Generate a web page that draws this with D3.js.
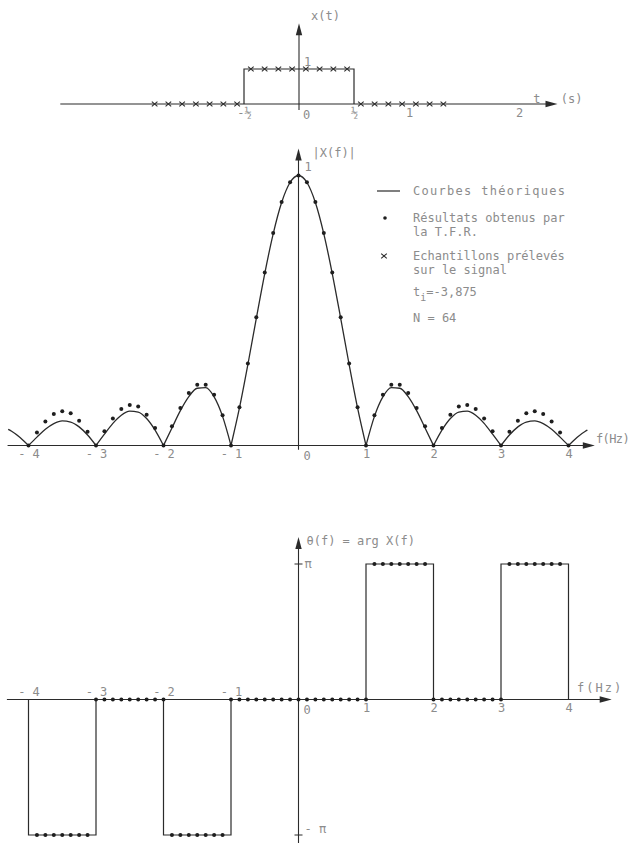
<!DOCTYPE html>
<html>
<head>
<meta charset="utf-8">
<script src="https://cdn.jsdelivr.net/npm/d3@7"></script>
<style>
body{margin:0;background:#fff;}
text{font-family:"DejaVu Sans Mono",monospace;font-size:12px;fill:#8c8c8c;}
</style>
</head>
<body>
<script>
// top panel : x(t) samples (crosses) and the rectangle
var sampleT = [-1.3125,-1.1875,-1.0625,-0.9375,-0.8125,-0.6875,-0.5625,
               -0.4375,-0.3125,-0.1875,-0.0625,0.0625,0.1875,0.3125,0.4375,
               0.5625,0.6875,0.8125,0.9375,1.0625,1.1875,1.3125];
var sampleX = [0,0,0,0,0,0,0, 1,1,1,1,1,1,1,1, 0,0,0,0,0,0,0];
var rectT = [-0.5,-0.5,0.5];
var rectX = [0,1,0];
var tTicks = [-0.5,0.5,1,2];
var tTickLabels = ["-½","½","1","2"];

// middle panel : |X(f)|
var fTheo = [-4.3,-4.25,-4.125,-4,-3.875,-3.75,-3.625,-3.5,-3.375,-3.25,-3.125,-3,
  -2.875,-2.75,-2.625,-2.5,-2.375,-2.25,-2.125,-2,-1.875,-1.75,-1.625,-1.5,-1.375,-1.25,-1.125,-1,
  -0.875,-0.75,-0.625,-0.5,-0.375,-0.25,-0.125,0,0.125,0.25,0.375,0.5,0.625,0.75,0.875,1,
  1.125,1.25,1.375,1.5,1.625,1.75,1.875,2,2.125,2.25,2.375,2.5,2.625,2.75,2.875,3,
  3.125,3.25,3.375,3.5,3.625,3.75,3.875,4,4.125,4.25,4.28];
var magTheo = [0.060,0.053,0.030,0,0.031,0.060,0.081,0.091,0.087,0.069,0.039,0,
  0.042,0.082,0.112,0.127,0.124,0.100,0.057,0,0.065,0.129,0.181,0.212,0.214,0.180,0.108,0,
  0.139,0.300,0.471,0.637,0.784,0.900,0.974,1,0.974,0.900,0.784,0.637,0.471,0.300,0.139,0,
  0.108,0.180,0.214,0.212,0.181,0.129,0.065,0,0.057,0.100,0.124,0.127,0.112,0.082,0.042,0,
  0.039,0.069,0.087,0.091,0.081,0.060,0.031,0,0.030,0.053,0.057];
var fDots = [-4,-3.875,-3.75,-3.625,-3.5,-3.375,-3.25,-3.125,-3,
  -2.875,-2.75,-2.625,-2.5,-2.375,-2.25,-2.125,-2,-1.875,-1.75,-1.625,-1.5,-1.375,-1.25,-1.125,-1,
  -0.875,-0.75,-0.625,-0.5,-0.375,-0.25,-0.125,0,0.125,0.25,0.375,0.5,0.625,0.75,0.875,1,
  1.125,1.25,1.375,1.5,1.625,1.75,1.875,2,2.125,2.25,2.375,2.5,2.625,2.75,2.875,3,
  3.125,3.25,3.375,3.5,3.625,3.75,3.875,4];
var magDots = [0,0.048,0.089,0.117,0.127,0.119,0.092,0.051,0,
  0.053,0.100,0.135,0.150,0.144,0.114,0.065,0,0.071,0.139,0.194,0.225,0.225,0.188,0.112,0,
  0.142,0.304,0.475,0.641,0.787,0.902,0.975,1,0.975,0.902,0.787,0.641,0.475,0.304,0.142,0,
  0.112,0.188,0.225,0.225,0.194,0.139,0.071,0,0.065,0.114,0.144,0.150,0.135,0.100,0.053,0,
  0.051,0.092,0.119,0.127,0.117,0.089,0.048,0];
var fTicks = [-4,-3,-2,-1,1,2,3,4];

// bottom panel : arg X(f), in units of pi
var stepF = [-4,-4,-3,-2,-1,1,2,3,4];
var stepV = [0,-1,0,-1,0,1,0,1,0];
var phaseF = [-3.875,-3.75,-3.625,-3.5,-3.375,-3.25,-3.125,
  -3,-2.875,-2.75,-2.625,-2.5,-2.375,-2.25,-2.125,-2,
  -1.875,-1.75,-1.625,-1.5,-1.375,-1.25,-1.125,
  -1,-0.875,-0.75,-0.625,-0.5,-0.375,-0.25,-0.125,0,0.125,0.25,0.375,0.5,0.625,0.75,0.875,1,
  1.125,1.25,1.375,1.5,1.625,1.75,1.875,
  2,2.125,2.25,2.375,2.5,2.625,2.75,2.875,3,
  3.125,3.25,3.375,3.5,3.625,3.75,3.875];
var phaseV = [-1,-1,-1,-1,-1,-1,-1,
  0,0,0,0,0,0,0,0,0,
  -1,-1,-1,-1,-1,-1,-1,
  0,0,0,0,0,0,0,0,0,0,0,0,0,0,0,0,0,
  1,1,1,1,1,1,1,
  0,0,0,0,0,0,0,0,0,
  1,1,1,1,1,1,1];

var w = 631, h = 843;
var ink = "#2b2b2b";

var svg = d3.select("body").append("svg")
  .attr("width", w).attr("height", h);

// scales
var tx = d3.scaleLinear().domain([0,1]).range([299,409]);
var ty = d3.scaleLinear().domain([0,1]).range([104,69]);
var fx = d3.scaleLinear().domain([0,4]).range([298.5,568.5]);
var my = d3.scaleLinear().domain([0,1]).range([445.5,175.5]);
var py = d3.scaleLinear().domain([-1,1]).range([835,564]);

function hArrow(x0, x1, y){
  svg.append("line").attr("x1",x0).attr("x2",x1-4).attr("y1",y).attr("y2",y)
    .attr("stroke",ink).attr("stroke-width",1.1);
  svg.append("path").attr("d","M"+x1+","+y+"L"+(x1-12)+","+(y-3.2)+"L"+(x1-12)+","+(y+3.2)+"Z")
    .attr("fill",ink);
}
function vArrow(x, y0, y1){
  svg.append("line").attr("x1",x).attr("x2",x).attr("y1",y0).attr("y2",y1+4)
    .attr("stroke",ink).attr("stroke-width",1.1);
  svg.append("path").attr("d","M"+x+","+y1+"L"+(x-3.2)+","+(y1+12)+"L"+(x+3.2)+","+(y1+12)+"Z")
    .attr("fill",ink);
}
function label(x, y, s){
  return svg.append("text").attr("x",x).attr("y",y).text(s);
}

//top panel
hArrow(tx(-2.17), tx(2.35), ty(0));
vArrow(tx(0), ty(-0.17), ty(2.31));

var stepLine = d3.line().curve(d3.curveStepAfter);
svg.append("path")
  .attr("d", stepLine(rectT.map((d,i) => [tx(d), ty(rectX[i])])))
  .attr("fill","none").attr("stroke",ink).attr("stroke-width",1.2);

svg.append("g").selectAll("path").data(sampleT).enter().append("path")
  .attr("transform",(d,i) => "translate(" + tx(d) + "," + ty(sampleX[i]) + ")")
  .attr("d","M-2.8,-2.4L2.8,2.4M-2.8,2.4L2.8,-2.4")
  .attr("stroke",ink).attr("stroke-width",1.1);

svg.append("g")
  .attr("transform","translate(0," + ty(0) + ")")
  .call(d3.axisBottom(tx).tickValues(tTicks).tickSize(0).tickPadding(4)
        .tickFormat((d,i) => tTickLabels[i]))
  .call(g => g.select(".domain").remove());

label(tx(0)+12, 20, "x(t)");
label(tx(0)+5, ty(1)-3, "1");
label(tx(0)+4, ty(0)+15, "0");
label(tx(2.13), ty(0)-1, "t");
label(tx(2.38), ty(0)-1, "(s)");

//middle panel
hArrow(fx(-4.31), fx(4.39), my(0));
vArrow(fx(0), my(-0.016), my(1.1));

var curve = d3.line().x(d => fx(d[0])).y(d => my(d[1])).curve(d3.curveMonotoneX);
var bounds = [-4.3,-4,-3,-2,-1,1,2,3,4,4.28];
for (var b = 0; b < bounds.length-1; b++){
  var seg = [];
  fTheo.forEach((f,i) => { if (f >= bounds[b]-1e-9 && f <= bounds[b+1]+1e-9) seg.push([f, magTheo[i]]); });
  svg.append("path").datum(seg)
    .attr("fill","none").attr("stroke",ink).attr("stroke-width",1.3)
    .attr("d",curve);
}

svg.append("g").selectAll("circle").data(fDots).enter().append("circle")
  .attr("cx", d => fx(d))
  .attr("cy", (d,i) => my(magDots[i]))
  .attr("r",2)
  .attr("fill","#1e1e1e");

svg.append("g")
  .attr("transform","translate(0," + my(0) + ")")
  .call(d3.axisBottom(fx).tickValues(fTicks).tickSize(0).tickPadding(4)
        .tickFormat(d => d < 0 ? "- " + (-d) : String(d)))
  .call(g => g.select(".domain").remove());

label(fx(0)+5, my(0)+14, "0");
label(fx(0)+14, 157, "|X(f)|");
label(fx(0)+6, 171, "1");
label(596, my(0)-3, "f(Hz)").attr("letter-spacing","-0.6px");

// legend
svg.append("line").attr("x1",377).attr("x2",400).attr("y1",191).attr("y2",191)
  .attr("stroke",ink).attr("stroke-width",1.2);
svg.append("circle").attr("cx",385).attr("cy",218).attr("r",1.8).attr("fill","#1e1e1e");
svg.append("path").attr("transform","translate(384,256)")
  .attr("d","M-2.8,-2.4L2.8,2.4M-2.8,2.4L2.8,-2.4").attr("stroke",ink).attr("stroke-width",1.1);
label(413,195,"Courbes théoriques").attr("textLength",152);
label(413,222,"Résultats obtenus par");
label(413,236,"la T.F.R.");
label(413,260,"Echantillons prélevés");
label(413,274,"sur le signal");
var ti = label(413,296,"t");
ti.append("tspan").attr("dy",5).style("font-size","10px").text("i");
ti.append("tspan").attr("dy",-5).text("=-3,875");
label(413,322,"N = 64");

//bottom panel
hArrow(fx(-4.32), fx(4.64), py(0));
vArrow(fx(0), 843, 537);

svg.append("path")
  .attr("d", stepLine(stepF.map((d,i) => [fx(d), py(stepV[i])])))
  .attr("fill","none").attr("stroke",ink).attr("stroke-width",1.2);

svg.append("g").selectAll("circle").data(phaseF).enter().append("circle")
  .attr("cx", d => fx(d))
  .attr("cy", (d,i) => py(phaseV[i]))
  .attr("r",2)
  .attr("fill","#1e1e1e");

svg.append("g")
  .attr("transform","translate(0," + py(0) + ")")
  .call(d3.axisTop(fx).tickValues(fTicks.filter(d => d < 0)).tickSize(0).tickPadding(4)
        .tickFormat(d => "- " + (-d)))
  .call(g => g.select(".domain").remove());
svg.append("g")
  .attr("transform","translate(0," + py(0) + ")")
  .call(d3.axisBottom(fx).tickValues(fTicks.filter(d => d > 0)).tickSize(0).tickPadding(4)
        .tickFormat(d => String(d)))
  .call(g => g.select(".domain").remove());

[1,-1].forEach(v => {
  svg.append("line").attr("x1",fx(0)-4).attr("x2",fx(0)+4)
    .attr("y1",py(v)).attr("y2",py(v)).attr("stroke",ink);
});
label(fx(0)+6, py(1)+4, "π");
label(fx(0)+6, py(-1)-2, "- π");
label(fx(0)+5, py(0)+14, "0");
label(fx(0)+8, 545, "θ(f) = arg X(f)");
label(577, py(0)-8, "f(Hz)").attr("letter-spacing","2px");
</script>
</body>
</html>
